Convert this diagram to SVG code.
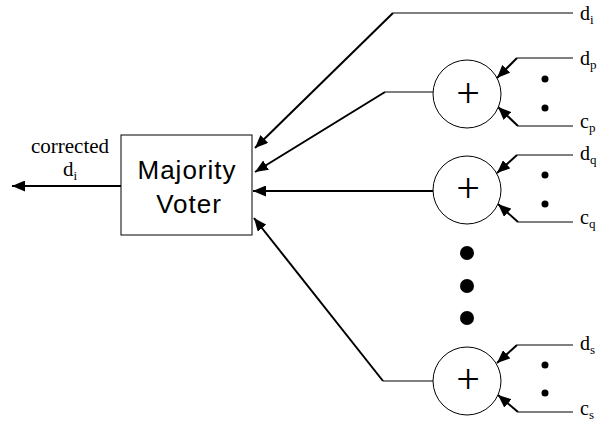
<svg xmlns="http://www.w3.org/2000/svg" width="600" height="423" viewBox="0 0 600 423">
<defs>
<marker id="ah" markerUnits="userSpaceOnUse" markerWidth="13" markerHeight="11" refX="13" refY="5.5" orient="auto">
<path d="M0,0 L13,5.5 L0,11 z" fill="#000"/>
</marker>
<style>
.thin{stroke:#000;stroke-width:1;fill:none}
.arr{stroke:#000;stroke-width:2;fill:none;marker-end:url(#ah)}
.node{fill:#fff;stroke:#000;stroke-width:1}
.lbl{font-family:"Liberation Serif","Times New Roman",serif;font-size:20px;fill:#000}
.sub{font-size:13px}
.big{font-family:"Liberation Sans",Arial,sans-serif;font-size:26px;fill:#000;text-anchor:middle;letter-spacing:1px}
.plus{font-family:"Liberation Serif","Times New Roman",serif;font-size:42px;fill:#000;text-anchor:middle}
.dot{fill:#000}
</style>
</defs>
<rect width="600" height="423" fill="#fff"/>
<g id="connectors">
<line class="arr" x1="121" y1="186" x2="12" y2="186"/>
<polyline class="thin" points="573,13 393,13"/>
<line class="arr" x1="393" y1="13" x2="255" y2="148"/>
<polyline class="thin" points="433,92 385,92"/>
<line class="arr" x1="385" y1="92" x2="255" y2="172"/>
<line class="arr" x1="433" y1="191" x2="253" y2="191"/>
<polyline class="thin" points="433,381 383,381"/>
<line class="arr" x1="383" y1="381" x2="254" y2="218"/>
<polyline class="thin" points="573,58 517,58"/>
<line class="arr" x1="517" y1="58" x2="497" y2="78"/>
<polyline class="thin" points="573,126 518,126"/>
<line class="arr" x1="518" y1="126" x2="498" y2="107"/>
<polyline class="thin" points="573,155 517,155"/>
<line class="arr" x1="517" y1="155" x2="497" y2="173"/>
<polyline class="thin" points="573,222 518,222"/>
<line class="arr" x1="518" y1="222" x2="498" y2="204"/>
<polyline class="thin" points="573,345 517,345"/>
<line class="arr" x1="517" y1="345" x2="497" y2="363"/>
<polyline class="thin" points="573,412 518,412"/>
<line class="arr" x1="518" y1="412" x2="498" y2="395"/>
</g>
<g id="voter">
<rect class="node" x="121" y="135" width="131" height="100"/>
<text class="big" x="187" y="179">Majority</text>
<text class="big" x="189" y="213">Voter</text>
</g>
<g id="output-label">
<text class="lbl" x="70" y="153" text-anchor="middle" style="font-size:21px">corrected</text>
<text class="lbl" x="70" y="176" style="font-size:21px" text-anchor="middle">d<tspan class="sub" dy="4">i</tspan></text>
</g>
<g id="adder-p">
<circle class="node" cx="467" cy="94" r="34"/>
<text class="plus" x="468" y="107">+</text>
</g>
<g id="adder-q">
<circle class="node" cx="467" cy="190" r="34"/>
<text class="plus" x="468" y="202">+</text>
</g>
<g id="adder-s">
<circle class="node" cx="467" cy="381" r="34"/>
<text class="plus" x="468" y="393">+</text>
</g>
<g id="ellipsis">
<circle class="dot" cx="467" cy="253" r="7"/>
<circle class="dot" cx="467" cy="286" r="7"/>
<circle class="dot" cx="467" cy="318" r="7"/>
<circle class="dot" cx="545" cy="79" r="3.5"/>
<circle class="dot" cx="545" cy="108" r="3.5"/>
<circle class="dot" cx="545" cy="175" r="3.5"/>
<circle class="dot" cx="545" cy="204" r="3.5"/>
<circle class="dot" cx="545" cy="365" r="3.5"/>
<circle class="dot" cx="545" cy="393" r="3.5"/>
</g>
<g id="labels">
<text class="lbl" x="580" y="20">d<tspan class="sub" dy="4">i</tspan></text>
<text class="lbl" x="580" y="65">d<tspan class="sub" dy="4">p</tspan></text>
<text class="lbl" x="580" y="128">c<tspan class="sub" dy="4">p</tspan></text>
<text class="lbl" x="580" y="160">d<tspan class="sub" dy="4">q</tspan></text>
<text class="lbl" x="580" y="224">c<tspan class="sub" dy="4">q</tspan></text>
<text class="lbl" x="580" y="350">d<tspan class="sub" dy="4">s</tspan></text>
<text class="lbl" x="580" y="415">c<tspan class="sub" dy="4">s</tspan></text>
</g>
</svg>
